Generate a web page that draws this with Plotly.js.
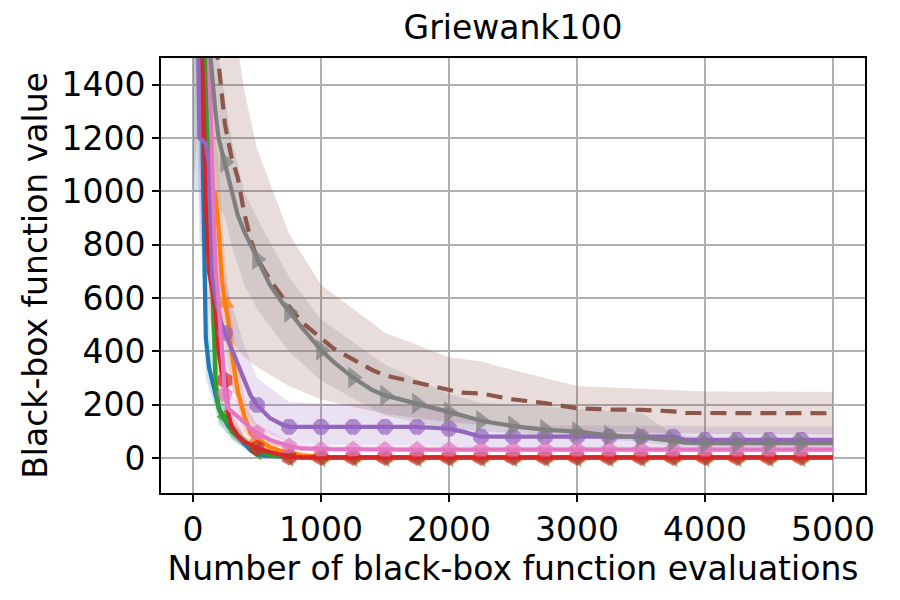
<!DOCTYPE html>
<html>
<head>
<meta charset="utf-8">
<script src="https://cdn.plot.ly/plotly-3.0.1.min.js"></script>
<style>body{margin:0;background:#fff}</style>
</head>
<body>
<div id="chart" style="width:900px;height:600px"></div>
<script>
// evaluation counts for the mean curves
const X = [0, 25, 50, 75, 100, 125, 150, 175, 200, 225, 250, 275, 300, 350, 400, 450, 500, 600, 700, 750,
    850, 1000, 1100, 1250, 1400, 1500, 1750, 2000, 2100, 2250, 2500, 2750, 3000, 3250, 3500, 3750, 3850,
    4000, 4250, 4500, 4750, 5000];

// mean best-so-far values
const blueY = [3200, 2400, 1700, 1180, 450, 340, 290, 244, 191, 165, 142, 120, 105, 80, 55, 30, 12, 7, 5, 3,
    2, 2, 2, 2, 2, 2, 2, 2, 2, 2, 2, 2, 2, 2, 2, 2, 2, 2, 2, 2, 2, 2];
const orangeY = [3500, 2800, 2200, 1800, 1500, 1150, 1010, 990, 860, 670, 580, 520, 400, 250, 160, 92, 70, 41, 25, 19,
    10, 5, 4, 4, 4, 4, 3, 3, 3, 3, 3, 3, 3, 3, 3, 3, 3, 3, 3, 3, 3, 3];
const greenY = [3300, 2600, 2000, 1700, 1450, 1100, 650, 300, 185, 160, 155, 135, 100, 80, 62, 45, 28, 12, 6, 4,
    3, 2, 2, 2, 2, 2, 2, 2, 2, 2, 2, 2, 2, 2, 2, 2, 2, 2, 2, 2, 2, 2];
const redY = [3000, 2200, 1700, 1450, 950, 700, 640, 560, 400, 320, 292, 170, 120, 85, 62, 48, 38, 23, 8, 4,
    3, 3, 3, 3, 3, 3, 3, 3, 3, 3, 3, 3, 3, 3, 3, 3, 3, 3, 3, 3, 3, 3];
const purpleY = [3000, 2200, 1200, 1190, 1180, 1100, 680, 600, 540, 500, 469, 440, 410, 350, 290, 235, 199, 150, 125, 117,
    117, 117, 117, 117, 117, 117, 117, 110, 100, 80, 80, 80, 80, 80, 80, 80, 68, 68, 68, 68, 68, 68];
const brownY = [3800, 3200, 2700, 2300, 2000, 1800, 1650, 1550, 1480, 1380, 1250, 1190, 1130, 1050, 920, 820, 750, 670, 600, 570,
    510, 450, 410, 370, 330, 310, 283, 255, 245, 242, 220, 206, 187, 182, 181, 175, 169, 169, 168, 168, 168, 168];
const pinkY = [3400, 2700, 2100, 1800, 1600, 1500, 1100, 720, 580, 400, 240, 185, 175, 158, 135, 112, 95, 68, 50, 45,
    36, 33, 33, 33, 32, 32, 32, 32, 32, 32, 32, 32, 32, 32, 32, 32, 32, 32, 32, 32, 32, 32];
const grayY = [3600, 3000, 2500, 2100, 1700, 1560, 1450, 1300, 1200, 1150, 1110, 1050, 1000, 910, 850, 800, 745, 650, 580, 548,
    490, 405, 360, 302, 255, 235, 205, 172, 160, 140, 120, 106, 99, 85, 78, 64, 58, 56, 56, 56, 56, 56];

// spread bands (upper / lower) on a coarser grid
const BX = [0, 50, 100, 150, 200, 250, 300, 400, 500, 750, 1000, 1500, 2000, 2250, 2500, 3000, 3500, 3750, 4000, 5000];
const blueHi = [4200, 2400, 700, 380, 250, 190, 140, 80, 25, 8, 5, 4, 4, 4, 4, 4, 4, 4, 4, 4];
const blueLo = [1000, 1000, 300, 220, 140, 100, 75, 35, 4, 1, 0, 0, 0, 0, 0, 0, 0, 0, 0, 0];
const orangeHi = [4500, 2900, 2000, 1300, 1100, 750, 520, 230, 110, 35, 10, 7, 6, 6, 6, 6, 6, 6, 6, 6];
const orangeLo = [2500, 1500, 1100, 750, 620, 420, 280, 100, 35, 8, 2, 1, 1, 1, 1, 1, 1, 1, 1, 1];
const greenHi = [4300, 2700, 1900, 950, 280, 210, 140, 85, 42, 8, 4, 3, 3, 3, 3, 3, 3, 3, 3, 3];
const greenLo = [2300, 1400, 1000, 400, 120, 110, 70, 40, 15, 1, 0, 0, 0, 0, 0, 0, 0, 0, 0, 0];
const redHi = [4000, 2400, 1300, 850, 520, 380, 170, 85, 55, 8, 4, 3, 3, 3, 3, 3, 3, 3, 3, 3];
const redLo = [2000, 1100, 650, 450, 280, 200, 80, 42, 22, 1, 0, 0, 0, 0, 0, 0, 0, 0, 0, 0];
const purpleHi = [4000, 1700, 1500, 950, 760, 680, 580, 420, 300, 210, 205, 200, 190, 125, 122, 122, 122, 122, 118, 118];
const purpleLo = [2000, 800, 850, 450, 360, 300, 260, 180, 110, 60, 50, 48, 45, 40, 40, 38, 38, 36, 35, 35];
const brownHi = [5000, 4000, 3200, 2500, 2100, 1900, 1700, 1380, 1160, 840, 650, 470, 378, 362, 330, 270, 260, 256, 250, 248];
const brownLo = [1000, 1300, 1400, 1350, 900, 520, 440, 380, 341, 270, 220, 165, 135, 125, 115, 100, 96, 94, 90, 88];
const pinkHi = [4400, 2800, 2100, 1500, 800, 340, 240, 190, 130, 62, 46, 44, 43, 43, 42, 42, 42, 42, 42, 42];
const pinkLo = [2400, 1400, 1100, 700, 380, 150, 110, 90, 62, 30, 22, 21, 20, 20, 20, 20, 20, 20, 20, 20];
const grayHi = [4600, 3300, 2400, 2000, 1500, 1350, 1200, 1000, 900, 680, 520, 350, 240, 206, 200, 185, 170, 90, 75, 70];
const grayLo = [2600, 1700, 1200, 1000, 950, 900, 800, 650, 560, 400, 290, 160, 110, 100, 94, 80, 60, 45, 42, 40];

const series = [
    {y: blueY, hi: blueHi, lo: blueLo, color: '#1f77b4', symbol: null},
    {y: orangeY, hi: orangeHi, lo: orangeLo, color: '#ff7f0e', symbol: 'triangle-up'},
    {y: greenY, hi: greenHi, lo: greenLo, color: '#2ca02c', symbol: 'triangle-left'},
    {y: redY, hi: redHi, lo: redLo, color: '#d62728', symbol: 'hexagon'},
    {y: purpleY, hi: purpleHi, lo: purpleLo, color: '#9467bd', symbol: 'octagon'},
    {y: brownY, hi: brownHi, lo: brownLo, color: '#8c564b', symbol: null, dash: '16px,9px'},
    {y: pinkY, hi: pinkHi, lo: pinkLo, color: '#e377c2', symbol: 'pentagon'},
    {y: grayY, hi: grayHi, lo: grayLo, color: '#7f7f7f', symbol: 'triangle-right', size: 19}
];

function rgba(hex, a) {
    const n = parseInt(hex.slice(1), 16);
    return 'rgba(' + (n >> 16) + ',' + ((n >> 8) & 255) + ',' + (n & 255) + ',' + a + ')';
}

const traces = [];
// shaded bands first
series.forEach(function(s) {
    traces.push({
        x: BX.concat(BX.slice().reverse()),
        y: s.hi.concat(s.lo.slice().reverse()),
        mode: 'lines',
        fill: 'toself',
        fillcolor: rgba(s.color, 0.2),
        line: {width: 0},
        hoverinfo: 'skip'
    });
});
// then the mean curves, markers every 250 evaluations
series.forEach(function(s) {
    const sz = s.size || 17;
    const t = {
        x: X,
        y: s.y,
        mode: s.symbol ? 'lines+markers' : 'lines',
        line: {color: s.color, width: 4.2, dash: s.dash || 'solid'}
    };
    if (s.symbol) {
        t.marker = {
            symbol: s.symbol,
            color: s.color,
            size: X.map(x => (x % 250 === 0 && x >= 250 && x <= 4750) ? sz : 0),
            line: {width: 0}
        };
    }
    traces.push(t);
});

const font = {family: 'DejaVu Sans', size: 33, color: '#000'};
const axis = {
    showline: true, mirror: true, linecolor: '#000', linewidth: 1.8,
    showgrid: true, gridcolor: '#b0b0b0', gridwidth: 2,
    zeroline: false,
    ticks: 'outside', ticklen: 7, tickwidth: 1.8, tickcolor: '#000',
    tickfont: font
};

const layout = {
    width: 900, height: 600,
    margin: {l: 161, r: 35, t: 58, b: 107},
    paper_bgcolor: '#fff', plot_bgcolor: '#fff',
    showlegend: false,
    title: {text: 'Griewank100', font: font, x: 0.57, xanchor: 'center', y: 0.955, yanchor: 'middle'},
    xaxis: Object.assign({}, axis, {
        range: [-250, 5250],
        tickvals: [0, 1000, 2000, 3000, 4000, 5000],
        title: {text: 'Number of black-box function evaluations', font: font, standoff: 3}
    }),
    yaxis: Object.assign({}, axis, {
        range: [-131, 1500],
        tickvals: [0, 200, 400, 600, 800, 1000, 1200, 1400],
        title: {text: 'Black-box function value', font: font, standoff: 4}
    })
};

Plotly.newPlot('chart', traces, layout, {staticPlot: true});
</script>
</body>
</html>
